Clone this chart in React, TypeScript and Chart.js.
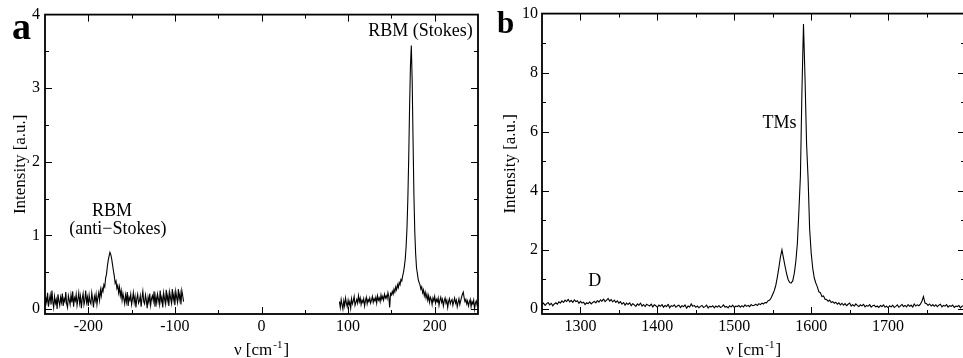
import React, { useEffect, useRef } from "react";
import { Chart, registerables } from "chart.js";

Chart.register(...registerables);

// ---------------- data ----------------
// Panel a: anti-Stokes segment, x from -250 to -90, 1 cm^-1 sampling
const A_STEP = 1;
const A_ANTI_X0 = -250;
const A_ANTI_Y = [
  0.04, 0.15, 0.09, 0.22, 0.03, 0.12, 0.19, 0.06, 0.25, 0.1,
  0.02, 0.17, 0.08, 0.13, 0.0, 0.2, 0.11, 0.05, 0.16, 0.09,
  0.21, 0.04, 0.14, 0.1, 0.23, 0.07, 0.02, 0.18, 0.12, 0.06,
  0.19, 0.09, 0.24, 0.03, 0.15, 0.11, 0.2, 0.05, 0.13, 0.22,
  0.08, 0.17, 0.01, 0.14, 0.21, 0.06, 0.12, 0.25, 0.09, 0.16,
  0.04, 0.19, 0.1, 0.07, 0.22, 0.13, 0.02, 0.17, 0.11, 0.2,
  0.06, 0.15, 0.22, 0.12, 0.26, 0.18, 0.28, 0.24, 0.33, 0.3,
  0.42, 0.47, 0.58, 0.66, 0.72, 0.77, 0.74, 0.68, 0.6, 0.52,
  0.45, 0.35, 0.38, 0.28, 0.32, 0.22, 0.3, 0.18, 0.25, 0.12,
  0.21, 0.14, 0.07, 0.19, 0.1, 0.23, 0.04, 0.16, 0.12, 0.2,
  0.06, 0.13, 0.22, 0.09, 0.17, 0.02, 0.14, 0.2, 0.08, 0.11,
  0.18, 0.03, 0.15, 0.24, 0.1, 0.07, 0.19, 0.12, 0.01, 0.16,
  0.09, 0.21, 0.05, 0.14, 0.18, 0.11, 0.24, 0.03, 0.17, 0.08,
  0.2, 0.13, 0.06, 0.25, 0.1, 0.16, 0.02, 0.22, 0.14, 0.07,
  0.26, 0.11, 0.19, 0.04, 0.23, 0.15, 0.08, 0.27, 0.12, 0.2,
  0.05, 0.24, 0.16, 0.09, 0.27, 0.13, 0.21, 0.06, 0.25, 0.18,
  0.1,
];

// Panel a: Stokes segment, x from 90 to 250, 1 cm^-1 sampling
const A_STOKES_X0 = 90;
const A_STOKES_Y = [
  0.1, 0.02, 0.13, 0.06, 0.0, 0.11, 0.04, 0.15, 0.08, 0.03,
  0.12, 0.05, 0.1, 0.01, 0.14, 0.07, 0.11, 0.17, 0.05, 0.09,
  0.13, 0.08, 0.18, 0.1, 0.15, 0.06, 0.12, 0.09, 0.14, 0.04,
  0.11, 0.16, 0.07, 0.13, 0.1, 0.15, 0.08, 0.12, 0.17, 0.09,
  0.14, 0.11, 0.16, 0.08, 0.18, 0.12, 0.15, 0.1, 0.19, 0.13,
  0.17, 0.12, 0.2, 0.15, 0.18, 0.14, 0.22, 0.17, 0.02, 0.21,
  0.19, 0.24, 0.2, 0.27, 0.23, 0.3, 0.26, 0.33, 0.29, 0.36,
  0.33, 0.4, 0.38, 0.45, 0.5, 0.58, 0.68, 0.85, 1.1, 1.5,
  2.05, 2.75, 3.3, 3.58, 3.1, 2.3, 1.55, 1.05, 0.75, 0.56,
  0.48, 0.4, 0.36, 0.33, 0.27, 0.3, 0.22, 0.26, 0.18, 0.23,
  0.15, 0.2, 0.12, 0.18, 0.09, 0.16, 0.13, 0.06, 0.15, 0.11,
  0.17, 0.08, 0.13, 0.1, 0.15, 0.05, 0.12, 0.16, 0.09, 0.13,
  0.04, 0.11, 0.15, 0.08, 0.12, 0.02, 0.1, 0.14, 0.07, 0.11,
  0.13, 0.05, 0.1, 0.15, 0.08, 0.12, 0.03, 0.09, 0.14, 0.06,
  0.11, 0.16, 0.2, 0.23, 0.15, 0.1, 0.13, 0.07, 0.11, 0.04,
  0.09, 0.13, 0.03, 0.1, 0.07, 0.12, 0.0, 0.08, 0.11, 0.05,
  0.09,
];

// Panel b: x from 1250 to 1800, 2 cm^-1 sampling
const B_STEP = 2;
const B_X0 = 1250;
const B_Y = [
  0.15, 0.2, 0.12, 0.18, 0.22, 0.14, 0.19, 0.11, 0.17, 0.21,
  0.16, 0.24, 0.2, 0.28, 0.22, 0.3, 0.25, 0.33, 0.24, 0.29,
  0.22, 0.31, 0.25, 0.28, 0.19, 0.26, 0.2, 0.23, 0.15, 0.21,
  0.18, 0.24, 0.17, 0.22, 0.26, 0.2, 0.29, 0.23, 0.31, 0.26,
  0.34, 0.25, 0.3, 0.36, 0.27, 0.32, 0.24, 0.3, 0.22, 0.28,
  0.19, 0.25, 0.16, 0.22, 0.13, 0.2, 0.15, 0.21, 0.11, 0.18,
  0.14, 0.09, 0.17, 0.12, 0.2, 0.1, 0.15, 0.08, 0.16, 0.13,
  0.1, 0.17, 0.07, 0.14, 0.11, 0.05, 0.13, 0.09, 0.15, 0.06,
  0.12, 0.08, 0.16, 0.04, 0.11, 0.09, 0.14, 0.06, 0.1, 0.13,
  0.05, 0.11, 0.08, 0.14, 0.03, 0.1, 0.07, 0.17, 0.09, 0.12,
  0.06, 0.1, 0.04, 0.09, 0.12, 0.05, 0.08, 0.13, 0.03, 0.09,
  0.07, 0.11, 0.04, 0.1, 0.06, 0.12, 0.05, 0.08, 0.14, 0.06,
  0.09, 0.04, 0.11, 0.07, 0.13, 0.05, 0.1, 0.08, 0.12, 0.06,
  0.11, 0.07, 0.14, 0.09, 0.12, 0.08, 0.15, 0.11, 0.13, 0.16,
  0.12, 0.18, 0.15, 0.2, 0.17, 0.22, 0.21, 0.28, 0.3,
  0.38, 0.5, 0.62, 0.8, 1.08, 1.4, 1.76, 2.0, 1.72, 1.45,
  1.2, 1.0, 0.9, 0.88, 0.95, 1.2, 1.6, 2.2, 3.3, 4.5,
  7.4, 9.65, 7.8, 5.6, 4.4, 2.7, 1.9, 1.38, 1.05, 0.88,
  0.75, 0.58, 0.55, 0.42, 0.44, 0.33, 0.32,
  0.26, 0.3, 0.22, 0.25, 0.19, 0.23, 0.16, 0.21, 0.14, 0.19,
  0.13, 0.18, 0.11, 0.16, 0.2, 0.1, 0.15, 0.09, 0.17, 0.12,
  0.08, 0.14, 0.1, 0.16, 0.07, 0.12, 0.09, 0.15, 0.06, 0.11,
  0.13, 0.07, 0.1, 0.05, 0.12, 0.08, 0.14, 0.06, 0.1, 0.04,
  0.11, 0.07, 0.13, 0.05, 0.09, 0.14, 0.06, 0.1, 0.16, 0.08,
  0.12, 0.07, 0.15, 0.09, 0.13, 0.06, 0.17, 0.1, 0.14, 0.11,
  0.16, 0.26, 0.42, 0.2, 0.18, 0.12, 0.17, 0.1, 0.15, 0.09,
  0.14, 0.08, 0.13, 0.16, 0.07, 0.12, 0.1, 0.15, 0.06, 0.11,
  0.09, 0.13, 0.05, 0.1, 0.08, 0.12, 0.04, 0.09, 0.11, 0.07,
];

// axes
const A_X_RANGE = [-250, 250];
const A_Y_RANGE = [-0.068, 4];
const A_X_TICKS = [-200, -100, 0, 100, 200];
const A_X_MINOR = [-150, -50, 50, 150];
const A_Y_TICKS = [0, 1, 2, 3, 4];
const A_Y_MINOR = [0.5, 1.5, 2.5, 3.5];

const B_X_RANGE = [1250, 1800];
const B_Y_RANGE = [-0.17, 10];
const B_X_TICKS = [1300, 1400, 1500, 1600, 1700];
const B_X_MINOR = [1350, 1450, 1550, 1650, 1750];
const B_Y_TICKS = [0, 2, 4, 6, 8, 10];
const B_Y_MINOR = [1, 3, 5, 7, 9];

// annotations (anchored in data coordinates)
const A_NOTES = ["RBM (Stokes)", "RBM", "(anti\u2212Stokes)"];
const A_NOTE_X = [183.5, -172.5, -165.8];
const A_NOTE_Y = [3.78, 1.33, 1.08];
const B_NOTES = ["TMs", "D"];
const B_NOTE_X = [1558.8, 1318.6];
const B_NOTE_Y = [6.28, 0.95];

const Y_TITLE = "Intensity [a.u.]";
const X_TITLE_MAIN = "\u03bd [cm";
const X_TITLE_SUP = "-1";
const X_TITLE_END = "]";

// ---------------- helpers ----------------
const SERIF = '"Liberation Serif", "Times New Roman", serif';

const toPoints = (x0: number, step: number, ys: number[]) =>
  ys.map((y, i) => ({ x: x0 + i * step, y }));

type PanelCfg = {
  series: { x: number; y: number }[][];
  xRange: number[];
  yRange: number[];
  xTicks: number[];
  xMinor: number[];
  yTicks: number[];
  yMinor: number[];
  notes: string[];
  noteX: number[];
  noteY: number[];
  letter: string;
  letterX: number;
  letterY: number;
  letterSize: number;
  yAxisWidth: number;
  padRight: number;
  tickPad: number;
};

function makeDecor(cfg: PanelCfg) {
  return {
    id: "decor",
    afterDraw(chart: any) {
      const { ctx, chartArea: ca } = chart;
      const xs = chart.scales.x;
      const ys = chart.scales.y;
      ctx.save();
      ctx.strokeStyle = "#000";
      ctx.lineWidth = 1;
      ctx.beginPath();
      const xt = (vals: number[], len: number) =>
        vals.forEach((v) => {
          const p = Math.round(xs.getPixelForValue(v)) + 0.5;
          ctx.moveTo(p, ca.bottom);
          ctx.lineTo(p, ca.bottom - len);
          ctx.moveTo(p, ca.top);
          ctx.lineTo(p, ca.top + len);
        });
      const yt = (vals: number[], len: number) =>
        vals.forEach((v) => {
          const p = Math.round(ys.getPixelForValue(v)) + 0.5;
          ctx.moveTo(ca.left, p);
          ctx.lineTo(ca.left + len, p);
          ctx.moveTo(ca.right, p);
          ctx.lineTo(ca.right - len, p);
        });
      xt(cfg.xTicks, 7);
      xt(cfg.xMinor, 4);
      yt(cfg.yTicks.filter((v) => v > cfg.yRange[0] && v < cfg.yRange[1]), 7);
      yt(cfg.yMinor, 4);
      ctx.stroke();

      ctx.lineWidth = 1.8;
      ctx.strokeRect(ca.left, ca.top, ca.right - ca.left, ca.bottom - ca.top);

      // annotations
      ctx.fillStyle = "#000";
      ctx.font = `18px ${SERIF}`;
      ctx.textAlign = "center";
      ctx.textBaseline = "middle";
      cfg.notes.forEach((t, i) =>
        ctx.fillText(t, xs.getPixelForValue(cfg.noteX[i]), ys.getPixelForValue(cfg.noteY[i]))
      );

      // panel letter
      ctx.font = `bold ${cfg.letterSize}px ${SERIF}`;
      ctx.textAlign = "left";
      ctx.textBaseline = "alphabetic";
      ctx.fillText(cfg.letter, cfg.letterX, cfg.letterY);

      // y title
      ctx.save();
      ctx.translate(21, (ca.top + ca.bottom) / 2);
      ctx.rotate(-Math.PI / 2);
      ctx.font = `17px ${SERIF}`;
      ctx.textAlign = "center";
      ctx.textBaseline = "middle";
      ctx.fillText(Y_TITLE, 0, 0);
      ctx.restore();

      // x title with superscript
      ctx.textAlign = "left";
      ctx.textBaseline = "alphabetic";
      ctx.font = `17px ${SERIF}`;
      const w1 = ctx.measureText(X_TITLE_MAIN).width;
      const w3 = ctx.measureText(X_TITLE_END).width;
      ctx.font = `11px ${SERIF}`;
      const w2 = ctx.measureText(X_TITLE_SUP).width;
      const cx = (ca.left + ca.right) / 2;
      let x0 = cx - (w1 + w2 + w3 + 2) / 2;
      const base = 355;
      ctx.font = `17px ${SERIF}`;
      ctx.fillText(X_TITLE_MAIN, x0, base);
      x0 += w1 + 1;
      ctx.font = `11px ${SERIF}`;
      ctx.fillText(X_TITLE_SUP, x0, base - 7);
      x0 += w2 + 1;
      ctx.font = `17px ${SERIF}`;
      ctx.fillText(X_TITLE_END, x0, base);

      ctx.restore();
    },
  };
}

function makeChart(canvas: HTMLCanvasElement, cfg: PanelCfg) {
  const tickFont = { family: SERIF, size: 16 };
  return new Chart(canvas, {
    type: "scatter",
    data: {
      datasets: cfg.series.map((pts) => ({
        data: pts,
        showLine: true,
        borderColor: "#000",
        backgroundColor: "#000",
        borderWidth: 1.1,
        pointRadius: 0,
        pointHoverRadius: 0,
        // tiny tension avoids Chart.js' pixel-bucketing fast path, lines stay straight
        tension: 0.001,
        fill: false,
      })),
    },
    options: {
      responsive: false,
      animation: false,
      events: [],
      layout: { padding: { left: 0, top: 13, right: cfg.padRight, bottom: 0 } },
      plugins: {
        legend: { display: false },
        tooltip: { enabled: false },
        title: { display: false },
      },
      scales: {
        x: {
          type: "linear",
          min: cfg.xRange[0],
          max: cfg.xRange[1],
          grid: { display: false, drawTicks: false },
          border: { display: false },
          ticks: {
            color: "#000",
            font: tickFont,
            padding: 3,
            maxRotation: 0,
            autoSkip: false,
            callback: (v: any) => String(v),
          },
          afterBuildTicks: (s: any) => {
            s.ticks = cfg.xTicks.map((v) => ({ value: v }));
          },
          afterFit: (s: any) => {
            s.height = 44;
          },
        },
        y: {
          type: "linear",
          min: cfg.yRange[0],
          max: cfg.yRange[1],
          grid: { display: false, drawTicks: false },
          border: { display: false },
          ticks: {
            color: "#000",
            font: tickFont,
            padding: cfg.tickPad,
            autoSkip: false,
            callback: (v: any) => String(v),
          },
          afterBuildTicks: (s: any) => {
            s.ticks = cfg.yTicks.map((v) => ({ value: v }));
          },
          afterFit: (s: any) => {
            s.width = cfg.yAxisWidth;
          },
        },
      },
    } as any,
    plugins: [makeDecor(cfg) as any],
  });
}

const A_CFG: PanelCfg = {
  series: [
    toPoints(A_ANTI_X0, A_STEP, A_ANTI_Y),
    toPoints(A_STOKES_X0, A_STEP, A_STOKES_Y),
  ],
  xRange: A_X_RANGE,
  yRange: A_Y_RANGE,
  xTicks: A_X_TICKS,
  xMinor: A_X_MINOR,
  yTicks: A_Y_TICKS,
  yMinor: A_Y_MINOR,
  notes: A_NOTES,
  noteX: A_NOTE_X,
  noteY: A_NOTE_Y,
  letter: "a",
  letterX: 12,
  letterY: 39,
  letterSize: 38,
  yAxisWidth: 45,
  padRight: 12,
  tickPad: 5,
};

const B_CFG: PanelCfg = {
  series: [toPoints(B_X0, B_STEP, B_Y)],
  xRange: B_X_RANGE,
  yRange: B_Y_RANGE,
  xTicks: B_X_TICKS,
  xMinor: B_X_MINOR,
  yTicks: B_Y_TICKS,
  yMinor: B_Y_MINOR,
  notes: B_NOTES,
  noteX: B_NOTE_X,
  noteY: B_NOTE_Y,
  letter: "b",
  letterX: 7,
  letterY: 33,
  letterSize: 31,
  yAxisWidth: 52,
  padRight: 15,
  tickPad: 4,
};

export default function App() {
  const aRef = useRef<HTMLCanvasElement>(null);
  const bRef = useRef<HTMLCanvasElement>(null);
  useEffect(() => {
    const ca = makeChart(aRef.current as HTMLCanvasElement, A_CFG);
    const cb = makeChart(bRef.current as HTMLCanvasElement, B_CFG);
    return () => {
      ca.destroy();
      cb.destroy();
    };
  }, []);
  return (
    <div
      style={{
        position: "fixed",
        left: 0,
        top: 0,
        width: 963,
        height: 358,
        overflow: "hidden",
        background: "#fff",
      }}
    >
      <canvas
        ref={aRef}
        width={490}
        height={358}
        style={{ position: "absolute", left: 0, top: 0, width: 490, height: 358 }}
      />
      <canvas
        ref={bRef}
        width={490}
        height={358}
        style={{ position: "absolute", left: 490, top: 0, width: 490, height: 358 }}
      />
    </div>
  );
}
